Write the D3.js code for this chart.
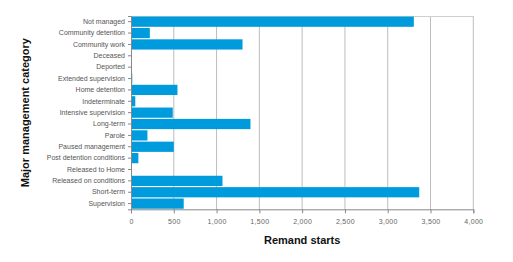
<!DOCTYPE html>
<html>
<head>
<meta charset="utf-8">
<script src="https://cdn.jsdelivr.net/npm/d3@7"></script>
<style>
  body { margin: 0; background: #fff; }
  svg { font-family: "Liberation Sans", Arial, sans-serif; }
</style>
</head>
<body>
<svg id="chart" width="513" height="262"></svg>
<script>
// categories top to bottom
let categories = ["Not managed", "Community detention", "Community work", "Deceased", "Deported",
    "Extended supervision", "Home detention", "Indeterminate", "Intensive supervision", "Long-term",
    "Parole", "Paused management", "Post detention conditions", "Released to Home",
    "Released on conditions", "Short-term", "Supervision"];
let remandStarts = [3305, 220, 1303, 0, 0, 15, 543, 50, 488, 1396, 192, 500, 86, 0, 1069, 3368, 616];
let xTicks = [0, 500, 1000, 1500, 2000, 2500, 3000, 3500, 4000];

let margin = {top: 16, left: 131, right: 40, bottom: 53};
let width = 513, height = 262;

let svg = d3.select("#chart");
let x = d3.scaleLinear().domain([0, 4000]).range([margin.left, 473.3]);
let y = d3.scaleBand().domain(categories).range([margin.top, 209.3]).paddingInner(0.1).paddingOuter(0.05);

// grid
svg.append("g")
    .selectAll("line")
    .data(xTicks.slice(1))
    .enter()
    .append("line")
    .attr("x1", d => x(d)).attr("x2", d => x(d))
    .attr("y1", margin.top).attr("y2", 209.3)
    .attr("stroke", "#bdbdbd")
    .attr("stroke-width", 1);

svg.append("line")
    .attr("x1", x(0)).attr("x2", x(4000))
    .attr("y1", margin.top + 0.5).attr("y2", margin.top + 0.5)
    .attr("stroke", "#cfcfcf");

// bars
svg.append("g")
    .selectAll("rect")
    .data(categories)
    .enter()
    .append("rect")
    .attr("x", x(0))
    .attr("y", d => y(d))
    .attr("width", (d, i) => x(remandStarts[i]) - x(0))
    .attr("height", y.bandwidth())
    .attr("fill", "#009bdc");

// x axis
let xAxis = svg.append("g")
    .attr("transform", "translate(0,209.3)")
    .call(d3.axisBottom(x).tickValues(xTicks).tickSize(4).tickPadding(6).tickFormat(d3.format(",")));
xAxis.select(".domain").attr("stroke", "#888");
xAxis.selectAll(".tick line").attr("stroke", "#888");
xAxis.selectAll("text").attr("fill", "#666").attr("font-size", "7px")
    .attr("font-family", "Liberation Sans, Arial, sans-serif").attr("letter-spacing", "0.3px");

// y axis
let yAxis = svg.append("g")
    .attr("transform", "translate(" + x(0) + ",0)")
    .call(d3.axisLeft(y).tickSize(3).tickPadding(3));
yAxis.select(".domain").attr("stroke", "#888");
yAxis.selectAll(".tick line").attr("stroke", "#888");
yAxis.selectAll("text").attr("fill", "#555").attr("font-size", "7px")
    .attr("font-family", "Liberation Sans, Arial, sans-serif");

// titles
svg.append("text")
    .attr("x", (x(0) + x(4000)) / 2).attr("y", 244)
    .attr("text-anchor", "middle")
    .attr("font-size", "11px").attr("font-weight", "bold").attr("fill", "#111")
    .text("Remand starts");

svg.append("text")
    .attr("transform", "translate(29," + ((margin.top + 209.3) / 2) + ") rotate(-90)")
    .attr("text-anchor", "middle")
    .attr("font-size", "11px").attr("font-weight", "bold").attr("fill", "#111")
    .text("Major management category");
</script>
</body>
</html>
